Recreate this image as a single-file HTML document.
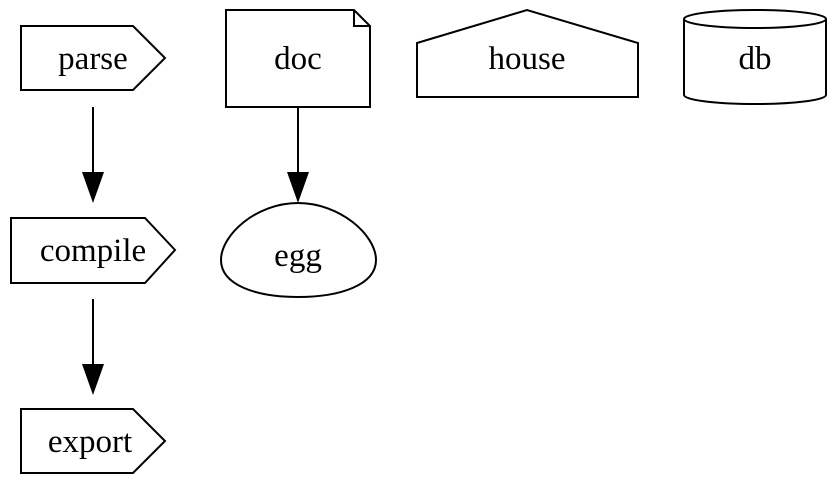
<!DOCTYPE html>
<html><head><style>body{margin:0;background:#fff}svg{display:block}text{font-family:"Liberation Serif",serif;font-size:33px;text-anchor:middle}</style></head><body>
<svg width="840" height="502" viewBox="0 0 840 502" xmlns="http://www.w3.org/2000/svg">
<g fill="none" stroke="#000" stroke-width="2">
<polygon points="21,26 133,26 165,58 133,90 21,90"/>
<polygon points="11,218 145,218 175,250 145,283 11,283"/>
<polygon points="21,409 133,409 165,441 133,473 21,473"/>
<polygon points="226,10 354,10 370,26 370,107 226,107"/>
<polyline points="354,10 354,26 370,26"/>
<path d="M298,203 C340,203 376,235 376,260 C376,285 340,297 298,297 C256,297 221,285 221,260 C221,235 256,203 298,203 Z"/>
<polygon points="417,43 527,10 638,43 638,97 417,97"/>
<path d="M684,19 A71,9 0 0 1 826,19 L826,95 A71,9 0 0 1 684,95 Z"/>
<path d="M684,19 A71,9 0 0 0 826,19"/>
<line x1="93" y1="107" x2="93" y2="174"/>
<line x1="93" y1="299" x2="93" y2="366"/>
<line x1="298" y1="107" x2="298" y2="174"/>
</g>
<g fill="#000">
<polygon points="82,172 104,172 93,203"/>
<polygon points="82,364 104,364 93,395"/>
<polygon points="287,172 309,172 298,203"/>
</g>
<text x="93" y="69">parse</text>
<text x="93" y="261">compile</text>
<text x="90" y="452">export</text>
<text x="298" y="69">doc</text>
<text x="298" y="266">egg</text>
<text x="527" y="69">house</text>
<text x="755" y="69">db</text>
</svg>
</body></html>
